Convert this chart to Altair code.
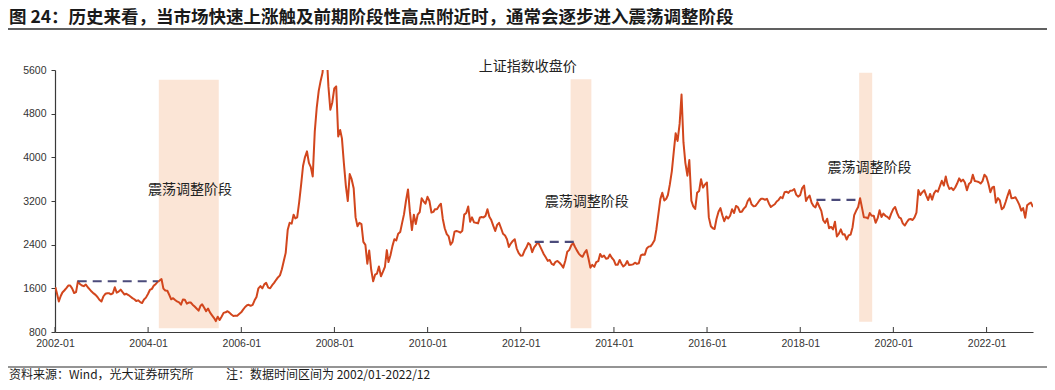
import altair as alt
import pandas as pd

# ---------------- text ----------------
title_text = "图 24：历史来看，当市场快速上涨触及前期阶段性高点附近时，通常会逐步进入震荡调整阶段"
source_text = "资料来源：Wind，光大证券研究所"
note_text = "注：数据时间区间为 2002/01-2022/12"
series_name = "上证指数收盘价"
band_label = "震荡调整阶段"

# ---------------- series (semi-monthly: mid-month, month-end) ----------------
start_date = "2002-01-04"
start_value = 1620
v2002 = [1520, 1360, 1460, 1524, 1560, 1604, 1650, 1652, 1600, 1515, 1530, 1730,
         1680, 1653, 1640, 1669, 1620, 1581, 1540, 1507, 1480, 1441, 1390, 1358]
v2003 = [1450, 1500, 1510, 1512, 1490, 1510, 1620, 1521, 1540, 1577, 1530, 1487,
         1500, 1477, 1450, 1421, 1400, 1367, 1380, 1349, 1330, 1397, 1430, 1497]
v2004 = [1570, 1590, 1650, 1675, 1720, 1742, 1770, 1595, 1560, 1555, 1480, 1399,
         1420, 1386, 1360, 1342, 1300, 1396, 1390, 1320, 1340, 1340, 1300, 1266]
v2005 = [1230, 1191, 1280, 1306, 1250, 1181, 1230, 1159, 1110, 1060, 1000, 1080,
         1020, 1083, 1150, 1162, 1180, 1155, 1120, 1092, 1100, 1099, 1130, 1161]
v2006 = [1210, 1258, 1290, 1299, 1280, 1298, 1380, 1440, 1600, 1641, 1600, 1672,
         1700, 1612, 1600, 1658, 1700, 1752, 1800, 1837, 1950, 2099, 2250, 2675]
v2007 = [2800, 2786, 2950, 2881, 2900, 3183, 3500, 3841, 4000, 4109, 3900, 3820,
         3650, 4471, 4900, 5218, 5400, 5552, 6000, 5954, 5300, 4871, 5000, 5262]
v2008 = [5300, 4383, 4500, 4348, 3900, 3473, 3200, 3693, 3600, 3433, 2900, 2736,
         2800, 2776, 2450, 2397, 2050, 2293, 1950, 1729, 1850, 1871, 2000, 1821]
v2009 = [1900, 1991, 2300, 2082, 2200, 2373, 2500, 2477, 2600, 2633, 2800, 2959,
         3200, 3412, 3000, 2667, 2950, 2779, 2950, 2996, 3250, 3195, 3150, 3277]
v2010 = [3200, 2989, 3000, 3051, 3050, 3110, 3150, 2871, 2700, 2592, 2550, 2398,
         2450, 2638, 2650, 2639, 2620, 2656, 2950, 2979, 3100, 2820, 2900, 2808]
v2011 = [2800, 2790, 2900, 2905, 2900, 2928, 3050, 2911, 2850, 2743, 2650, 2762,
         2800, 2701, 2600, 2568, 2500, 2359, 2420, 2468, 2500, 2333, 2250, 2199]
v2012 = [2200, 2293, 2350, 2428, 2400, 2263, 2350, 2397, 2450, 2373, 2300, 2225,
         2170, 2103, 2120, 2048, 2030, 2086, 2100, 2069, 2030, 1980, 2100, 2269]
v2013 = [2300, 2385, 2430, 2366, 2300, 2237, 2200, 2178, 2250, 2301, 2150, 1979,
         2030, 1994, 2080, 2098, 2230, 2175, 2200, 2142, 2150, 2220, 2160, 2116]
v2014 = [2030, 2033, 2120, 2056, 2000, 2033, 2100, 2026, 2030, 2039, 2070, 2048,
         2060, 2202, 2220, 2217, 2330, 2364, 2370, 2420, 2480, 2683, 2950, 3235]
v2015 = [3350, 3210, 3240, 3310, 3500, 3748, 4100, 4442, 4300, 4612, 5150, 4277,
         3900, 3664, 3950, 3206, 3100, 3053, 3350, 3383, 3600, 3445, 3500, 3539]
v2016 = [2900, 2738, 2700, 2688, 2870, 3004, 3070, 2938, 2830, 2917, 2880, 2930,
         3050, 2979, 3110, 3085, 3000, 3005, 3060, 3100, 3200, 3250, 3140, 3104]
v2017 = [3110, 3159, 3210, 3242, 3240, 3223, 3240, 3155, 3090, 3117, 3140, 3192,
         3220, 3273, 3250, 3361, 3370, 3349, 3390, 3393, 3420, 3317, 3280, 3307]
v2018 = [3430, 3481, 3200, 3259, 3300, 3169, 3110, 3082, 3180, 3095, 3020, 2847,
         2800, 2876, 2700, 2725, 2680, 2821, 2550, 2603, 2680, 2588, 2590, 2494]
v2019 = [2570, 2585, 2720, 2941, 3020, 3091, 3250, 3078, 2900, 2899, 2880, 2979,
         2930, 2932, 2800, 2886, 3030, 2905, 2970, 2929, 2910, 2872, 2970, 3050]
v2020 = [3090, 2977, 2900, 2880, 2790, 2750, 2810, 2860, 2870, 2852, 2900, 2985,
         3400, 3310, 3360, 3396, 3300, 3218, 3330, 3225, 3340, 3392, 3370, 3473]
v2021 = [3570, 3483, 3650, 3509, 3420, 3442, 3400, 3447, 3520, 3615, 3560, 3591,
         3540, 3397, 3510, 3544, 3680, 3568, 3560, 3547, 3520, 3564, 3680, 3640]
v2022 = [3520, 3361, 3450, 3462, 3170, 3252, 3210, 3047, 3080, 3186, 3300, 3399,
         3250, 3253, 3270, 3202, 3130, 3024, 3070, 2893, 3120, 3151, 3170, 3089]

yearly = {2002: v2002, 2003: v2003, 2004: v2004, 2005: v2005, 2006: v2006,
          2007: v2007, 2008: v2008, 2009: v2009, 2010: v2010, 2011: v2011,
          2012: v2012, 2013: v2013, 2014: v2014, 2015: v2015, 2016: v2016,
          2017: v2017, 2018: v2018, 2019: v2019, 2020: v2020, 2021: v2021,
          2022: v2022}

# ---------------- oscillation bands ----------------
band_start = ["2004-03-25", "2013-01-26", "2019-04-08"]
band_end = ["2005-07-08", "2013-07-08", "2019-07-19"]
band_top = [5420, 5430, 5550]
band_bottom = [870, 870, 990]

# ---------------- previous-high dashed lines ----------------
dash_start = ["2002-06-28", "2012-04-20", "2018-05-08"]
dash_end = ["2004-03-18", "2013-03-30", "2019-04-17"]
dash_level = [1730, 2450, 3220]

# ---------------- annotation anchors ----------------
label_dates = ["2004-11-25", "2013-06-01", "2019-06-28"]
label_values = [3400, 3185, 3800]
series_label_date = "2012-02-25"
series_label_value = 5655

y_ticks = [800, 1600, 2400, 3200, 4000, 4800, 5600]
x_tick_years = list(range(2002, 2023, 2))

# ---------------- build tables ----------------
dates, values = [start_date], [start_value]
for yr in sorted(yearly):
    vals = yearly[yr]
    for m in range(12):
        mid = pd.Timestamp(year=yr, month=m + 1, day=15)
        end = pd.Timestamp(year=yr, month=m + 1, day=1) + pd.offsets.MonthEnd(0)
        dates += [mid.strftime("%Y-%m-%d"), end.strftime("%Y-%m-%d")]
        values += [vals[2 * m], vals[2 * m + 1]]
line_df = pd.DataFrame({"date": dates, "close": values})

band_df = pd.DataFrame({"start": band_start, "end": band_end,
                        "top": band_top, "bottom": band_bottom})
dash_df = pd.DataFrame({"start": dash_start, "end": dash_end, "level": dash_level})
label_df = pd.DataFrame({"date": label_dates, "value": label_values,
                         "text": [band_label] * 3})
series_df = pd.DataFrame({"date": [series_label_date], "value": [series_label_value],
                          "text": [series_name]})
tick_df = pd.DataFrame({"date": [f"{y}-01-01" for y in x_tick_years]})

W, H = 978, 262
FONT_CN = "Noto Sans CJK SC"
FONT_NUM = "Liberation Sans"

x_scale = alt.Scale(type="utc",
                    domain=[alt.DateTime(year=2002, month=1, date=1, utc=True),
                            alt.DateTime(year=2022, month=12, date=31, utc=True)])
y_scale = alt.Scale(domain=[800, 5600], nice=False, zero=False)

x_axis = alt.Axis(values=[alt.DateTime(year=y, month=1, date=1, utc=True) for y in x_tick_years],
                  format="%Y-%m", title=None, grid=False, domainColor="#3a3a3a",
                  domainWidth=1.2, ticks=False, labelPadding=6, labelFont=FONT_NUM,
                  labelFontSize=10.5, labelColor="#333333", labelFlush=False)
y_axis = alt.Axis(values=y_ticks, format="d", title=None, grid=False,
                  domainColor="#3a3a3a", domainWidth=1.2, tickColor="#3a3a3a",
                  tickSize=4, labelPadding=5, labelFont=FONT_NUM,
                  labelFontSize=10.5, labelColor="#333333")

bands = alt.Chart(band_df).mark_rect(color="#fbe5d6", opacity=1).encode(
    x=alt.X("start:T", scale=x_scale, axis=x_axis),
    x2="end:T",
    y=alt.Y("top:Q", scale=y_scale, axis=y_axis),
    y2="bottom:Q",
)

line = alt.Chart(line_df).mark_line(color="#d2461d", strokeWidth=2, clip=True,
                                    strokeJoin="round").encode(
    x=alt.X("date:T", scale=x_scale, axis=x_axis),
    y=alt.Y("close:Q", scale=y_scale, axis=y_axis),
)

dashes = alt.Chart(dash_df).mark_rule(color="#4b4b7b", strokeWidth=2.2,
                                      strokeDash=[9, 6]).encode(
    x=alt.X("start:T", scale=x_scale, axis=x_axis),
    x2="end:T",
    y=alt.Y("level:Q", scale=y_scale, axis=y_axis),
)

labels = alt.Chart(label_df).mark_text(font=FONT_CN, fontSize=14, color="#222222",
                                       align="center", baseline="middle").encode(
    x=alt.X("date:T", scale=x_scale, axis=x_axis),
    y=alt.Y("value:Q", scale=y_scale, axis=y_axis),
    text="text:N",
)

series_lbl = alt.Chart(series_df).mark_text(font=FONT_CN, fontSize=14, color="#222222",
                                            align="center", baseline="middle").encode(
    x=alt.X("date:T", scale=x_scale, axis=x_axis),
    y=alt.Y("value:Q", scale=y_scale, axis=y_axis),
    text="text:N",
)

x_ticks = alt.Chart(tick_df).mark_rule(color="#3a3a3a", strokeWidth=1).encode(
    x=alt.X("date:T", scale=x_scale, axis=x_axis),
    y=alt.value(H - 5),
    y2=alt.value(H),
)

one = pd.DataFrame({"t": [0]})
title = alt.Chart(pd.DataFrame({"t": [title_text]})).mark_text(
    font=FONT_CN, fontSize=17.5, fontWeight="bold", color="#1a1a1a",
    align="left", baseline="middle").encode(
    text="t:N", x=alt.value(-46), y=alt.value(-52))
title_rule = alt.Chart(one).mark_rule(color="#2b2b2b", strokeWidth=1.6).encode(
    x=alt.value(-47), x2=alt.value(994), y=alt.value(-41))
foot_rule = alt.Chart(one).mark_rule(color="#2b2b2b", strokeWidth=1.2).encode(
    x=alt.value(-47), x2=alt.value(994), y=alt.value(297))
source = alt.Chart(pd.DataFrame({"t": [source_text]})).mark_text(
    font=FONT_CN, fontSize=12, color="#1a1a1a", align="left", baseline="middle").encode(
    text="t:N", x=alt.value(-46), y=alt.value(305))
note = alt.Chart(pd.DataFrame({"t": [note_text]})).mark_text(
    font=FONT_CN, fontSize=12, color="#1a1a1a", align="left", baseline="middle").encode(
    text="t:N", x=alt.value(171), y=alt.value(305))

chart = alt.layer(
    bands, line, dashes, labels, series_lbl, x_ticks,
    title, title_rule, foot_rule, source, note,
).properties(
    width=W, height=H,
    autosize=alt.AutoSizeParams(type="none"),
    padding={"left": 47, "top": 62, "right": 14, "bottom": 50},
    background="white",
).configure_view(stroke=None)

chart.save("out.html", embed_options={"renderer": "svg", "actions": False})
